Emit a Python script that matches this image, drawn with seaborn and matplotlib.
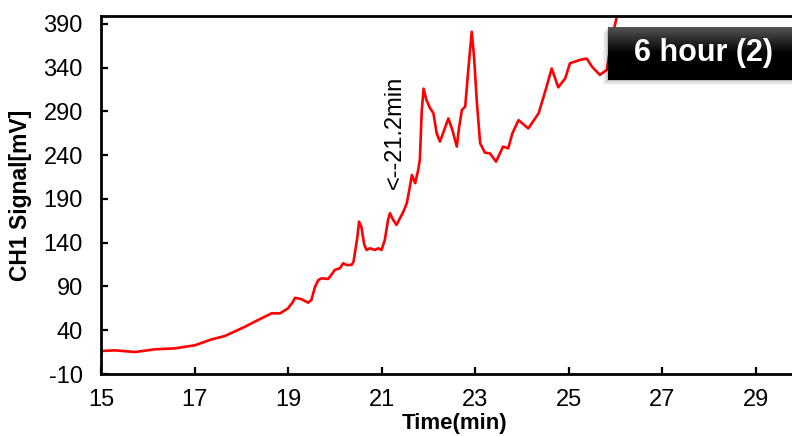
import numpy as np
import pandas as pd
import matplotlib
matplotlib.use("Agg")
import matplotlib.pyplot as plt
import seaborn as sns

# Chromatogram trace, channel 1
time_min = [
    15.00, 15.30, 15.73, 16.15, 16.58, 17.01, 17.37, 17.65, 18.08, 18.36,
    18.65, 18.83, 19.00, 19.10, 19.15, 19.28, 19.43, 19.50, 19.58, 19.65,
    19.72, 19.86, 19.95, 20.00, 20.11, 20.18, 20.25, 20.36, 20.40, 20.48,
    20.52, 20.57, 20.63, 20.68, 20.75, 20.86, 20.93, 21.00, 21.07, 21.14,
    21.18, 21.24, 21.32, 21.47, 21.54, 21.61, 21.65, 21.72, 21.78, 21.82,
    21.86, 21.90, 21.96, 22.04, 22.11, 22.18, 22.25, 22.35, 22.43, 22.52,
    22.61, 22.66, 22.72, 22.79, 22.86, 22.93, 22.98, 23.04, 23.11, 23.21,
    23.32, 23.45, 23.60, 23.71, 23.80, 23.93, 24.14, 24.36, 24.53, 24.64,
    24.70, 24.78, 24.93, 25.03, 25.25, 25.39, 25.50, 25.67, 25.82, 25.92,
    26.04,
]
signal_mv = [
    16.3, 17.0, 15.1, 18.2, 19.3, 22.8, 29.6, 33.4, 44.0, 51.7,
    59.3, 59.3, 65.0, 72.0, 77.0, 75.7, 71.5, 74.6, 90.0, 97.4,
    99.3, 98.6, 105.0, 108.9, 110.8, 116.5, 114.6, 114.6, 118.0, 145.0,
    164.0, 158.0, 138.0, 131.7, 133.6, 131.7, 133.6, 131.7, 143.0, 166.0,
    173.7, 167.0, 160.3, 175.7, 185.0, 205.0, 217.4, 208.0, 222.0, 234.6,
    290.0, 316.0, 303.0, 293.6, 288.0, 265.0, 255.5, 270.0, 282.0, 268.0,
    249.8, 272.0, 291.7, 295.5, 340.0, 381.0, 352.0, 300.0, 253.6, 243.0,
    242.0, 232.6, 249.8, 247.8, 265.0, 280.0, 270.6, 287.8, 318.0, 339.0,
    330.0, 317.5, 327.8, 345.0, 348.9, 350.4, 341.3, 331.7, 337.4, 371.7,
    400.0,
]
x_ticks = [15, 17, 19, 21, 23, 25, 27, 29]
y_ticks = [-10, 40, 90, 140, 190, 240, 290, 340, 390]
marker_label = "<--21.2min"
sample_label = "6 hour (2)"

df = pd.DataFrame({"Time(min)": time_min, "CH1 Signal[mV]": signal_mv})

sns.set_theme(style="white")
plt.rcParams["font.family"] = ["Liberation Sans", "DejaVu Sans"]
plt.rcParams["axes.unicode_minus"] = False
plt.rcParams["text.color"] = "black"
plt.rcParams["axes.labelcolor"] = "black"

fig = plt.figure(figsize=(7.92, 4.36), dpi=100)
ax = fig.add_axes([101 / 792, 62 / 436, 691 / 792, 358 / 436])

sns.lineplot(data=df, x="Time(min)", y="CH1 Signal[mV]", ax=ax,
             color="#ff0000", linewidth=1.9)
for ln in ax.lines:
    ln.set_solid_joinstyle("round")
    ln.set_solid_capstyle("round")

ax.set_xlim(15, 29.78)
ax.set_ylim(-10, 399)
ax.set_xticks(x_ticks)
ax.set_yticks(y_ticks)
ax.tick_params(axis="both", direction="in", length=5, width=1.6,
               labelsize=17, colors="black", pad=13)
ax.tick_params(axis="x", top=False, bottom=True, pad=11)
ax.tick_params(axis="y", left=True, right=False)

for side in ("left", "bottom", "top"):
    ax.spines[side].set_visible(True)
    ax.spines[side].set_color("black")
    ax.spines[side].set_linewidth(2.0)
ax.spines["right"].set_visible(False)

ax.set_xlabel("Time(min)", fontsize=16, fontweight="bold", color="black")
ax.set_ylabel("CH1 Signal[mV]", fontsize=16.5, fontweight="bold",
              color="black")
ax.xaxis.set_label_coords(0.512, -0.11)
ax.yaxis.set_label_coords(-0.10, 0.5)

ax.text(21.29, 266, marker_label, rotation=90, ha="center", va="center",
        fontsize=17, color="black")

# Sample tag: dark gradient box with a soft drop shadow
bx0, by0, bw, bh = 608 / 792, (436 - 80) / 436, 184 / 792, 53 / 436
for i, a in enumerate([0.10, 0.08, 0.06, 0.04]):
    off = (i + 1) * 1.2
    fig.patches.append(plt.Rectangle(
        (bx0 - off / 792, by0 - off / 436), bw + off / 792, bh,
        transform=fig.transFigure, facecolor="black", alpha=a,
        edgecolor="none", zorder=5))
tag = fig.add_axes([bx0, by0, bw, bh], zorder=10)
grad = np.concatenate([np.linspace(0.33, 0.0, 30), np.zeros(30)])[:, None]
tag.imshow(grad, cmap="gray", vmin=0, vmax=1, aspect="auto",
           extent=[0, 1, 0, 1], origin="upper")
tag.set_axis_off()
tag.text(0.52, 0.5, sample_label, color="white", fontsize=22,
         fontweight="bold", ha="center", va="center",
         transform=tag.transAxes)

fig.savefig("out.png", dpi=100)
